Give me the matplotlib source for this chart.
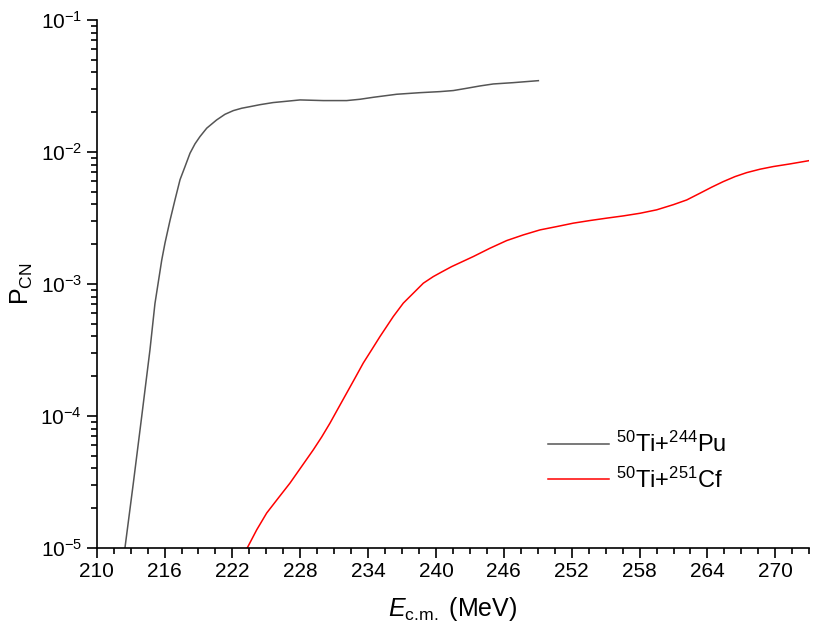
import matplotlib
matplotlib.use("Agg")
import matplotlib.pyplot as plt
from matplotlib.ticker import MultipleLocator, LogLocator, NullFormatter
import numpy as np

plt.rcParams['font.family'] = ['Liberation Sans', 'DejaVu Sans']
plt.rcParams['mathtext.fontset'] = 'custom'
plt.rcParams['mathtext.rm'] = 'Liberation Sans'
plt.rcParams['mathtext.it'] = 'Liberation Sans:italic'
plt.rcParams['axes.unicode_minus'] = False

# 50Ti+244Pu (E in MeV, log10 of P_CN)
pu_E = [212.5, 213.24, 213.98, 214.71, 215.15, 215.75, 216.04, 216.48, 216.92,
        217.37, 217.81, 218.25, 218.69, 219.13, 219.73, 220.6, 221.34, 222.08,
        222.82, 223.55, 224.44, 225.6, 226.8, 227.98, 230.04, 232.1, 233.28,
        234.46, 236.53, 238.59, 240.35, 241.53, 242.7, 243.89, 245.07, 246.84,
        249.05]
pu_logP = [-5.0, -4.51, -4.005, -3.5, -3.15, -2.82, -2.69, -2.52, -2.364,
           -2.21, -2.111, -2.01, -1.939, -1.884, -1.82, -1.758, -1.715, -1.687,
           -1.669, -1.657, -1.642, -1.626, -1.616, -1.606, -1.611, -1.611, -1.601,
           -1.586, -1.563, -1.551, -1.543, -1.535, -1.518, -1.5, -1.485, -1.475,
           -1.46]

# 50Ti+251Cf
cf_E = [223.32, 224.15, 225.03, 226.06, 227.09, 228.12, 229.15, 229.89, 230.63,
        231.36, 232.1, 232.84, 233.57, 234.31, 235.05, 236.22, 237.11, 237.85,
        238.88, 239.76, 240.5, 241.39, 242.12, 243.3, 244.77, 246.25, 247.72,
        249.2, 250.67, 252.14, 253.62, 255.09, 256.56, 258.04, 259.51, 260.98,
        262.17, 263.34, 264.38, 265.4, 266.44, 267.47, 268.65, 269.82, 271.3,
        273.0]
cf_logP = [-5.0, -4.864, -4.737, -4.623, -4.51, -4.384, -4.258, -4.161, -4.055,
           -3.942, -3.828, -3.714, -3.6, -3.5, -3.399, -3.248, -3.146, -3.083,
           -2.995, -2.945, -2.91, -2.869, -2.84, -2.793, -2.73, -2.672, -2.629,
           -2.591, -2.566, -2.54, -2.52, -2.502, -2.485, -2.465, -2.439, -2.40,
           -2.364, -2.313, -2.267, -2.225, -2.187, -2.157, -2.131, -2.111, -2.091,
           -2.066]

fig = plt.figure(figsize=(8.3, 6.36), dpi=100)
ax = fig.add_axes([0.1165, 0.1388, 0.8585, 0.8298])

ax.plot(pu_E, 10**np.array(pu_logP), color='#555555', lw=1.1,
        label=r'$^{50}$Ti+$^{244}$Pu')
ax.plot(cf_E, 10**np.array(cf_logP), color='#ff0000', lw=1.1,
        label=r'$^{50}$Ti+$^{251}$Cf')

ax.set_yscale('log')
ax.set_xlim(210, 273)
ax.set_ylim(1e-5, 1e-1)

ax.xaxis.set_major_locator(MultipleLocator(6))
ax.xaxis.set_minor_locator(MultipleLocator(1.5))
ax.yaxis.set_major_locator(LogLocator(base=10, numticks=10))
ax.yaxis.set_minor_locator(LogLocator(base=10, subs=np.arange(2, 10), numticks=10))
ax.yaxis.set_minor_formatter(NullFormatter())

ax.spines['top'].set_visible(False)
ax.spines['right'].set_visible(False)
ax.spines['left'].set_linewidth(1.2)
ax.spines['bottom'].set_linewidth(1.2)
ax.tick_params(which='major', direction='out', length=7, width=1.2, labelsize=15)
ax.tick_params(which='minor', direction='out', length=4, width=1.2)

ax.set_xlabel(r'$E_{\mathrm{c.\!m.}}$ (MeV)', fontsize=18, labelpad=10)
ax.set_ylabel(r'P$_{\mathrm{CN}}$', fontsize=18, labelpad=4)

ax.legend(loc='center left', bbox_to_anchor=(0.633, 0.162), frameon=False,
          fontsize=17, handlelength=2.6, handletextpad=0.3, labelspacing=0.45,
          borderpad=0, borderaxespad=0)

fig.savefig('out.png', dpi=100)
